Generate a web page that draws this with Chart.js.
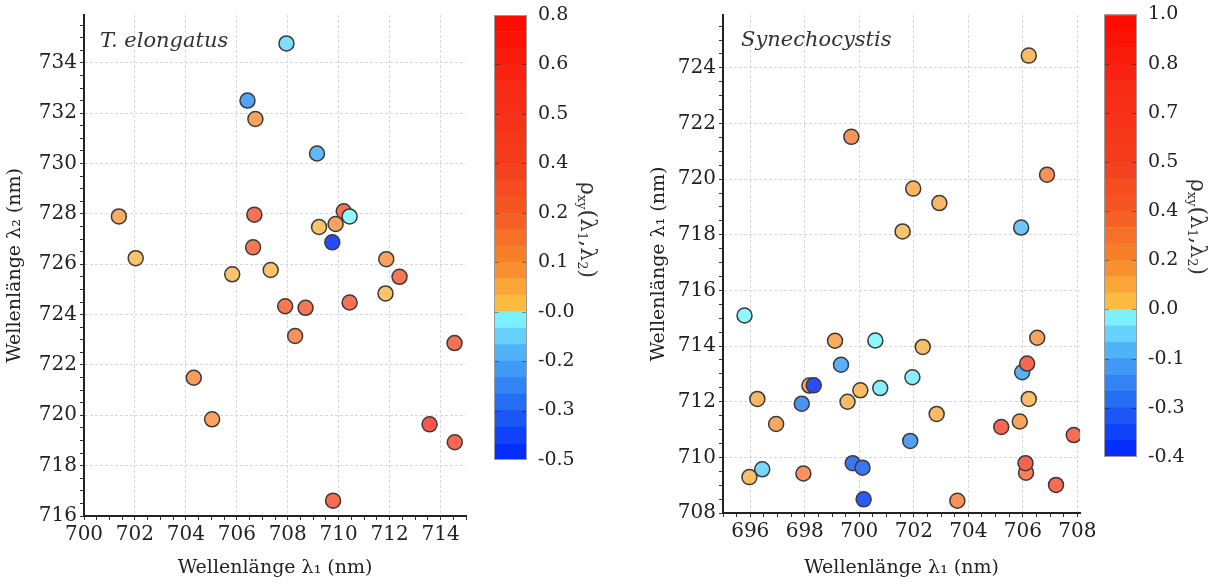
<!DOCTYPE html>
<html>
<head>
<meta charset="utf-8">
<script src="https://cdn.jsdelivr.net/npm/chart.js@4"></script>
<style>
body { margin: 0; background: #fff; }
#wrap { position: relative; width: 1217px; height: 588px; }
canvas { position: absolute; top: 0; }
</style>
</head>
<body>
<div id="wrap">
  <canvas id="teChart" width="480" height="588" style="left:0px"></canvas>
  <canvas id="teBar" width="120" height="588" style="left:480px"></canvas>
  <canvas id="syChart" width="460" height="588" style="left:640px"></canvas>
  <canvas id="syBar" width="127" height="588" style="left:1090px"></canvas>
</div>
<script>
// T. elongatus: lambda1, lambda2, correlation
var teX = [707.95, 706.42, 706.73, 709.15, 701.37, 702.03, 706.69, 706.64, 705.82, 707.33, 709.23, 709.88, 710.2, 710.43,
           709.75, 711.87, 712.39, 711.84, 707.9, 708.7, 708.29, 710.43, 714.55, 704.31, 705.03, 713.57, 714.56, 709.78];
var teY = [734.77, 732.5, 731.77, 730.4, 727.9, 726.24, 727.97, 726.67, 725.6, 725.77, 727.48, 727.6, 728.1, 727.9,
           726.87, 726.2, 725.5, 724.84, 724.33, 724.27, 723.15, 724.48, 722.87, 721.49, 719.84, 719.64, 718.93, 716.61];
var teRho = [-0.08, -0.22, 0.1, -0.18, 0.08, 0.03, 0.35, 0.3, 0.03, 0.03, 0.03, 0.1, 0.35, -0.01,
             -0.45, 0.1, 0.3, 0.03, 0.3, 0.3, 0.15, 0.35, 0.35, 0.12, 0.1, 0.6, 0.45, 0.4];
var teBarTicks = ['0.8', '0.6', '0.5', '0.4', '0.2', '0.1', '-0.0', '-0.2', '-0.3', '-0.5'];

// Synechocystis
var syX = [706.22, 699.71, 701.98, 702.94, 701.59, 706.89, 705.94, 695.79, 699.11, 700.59, 702.33, 706.53, 699.33, 705.98,
           706.16, 701.95, 700.77, 700.04, 698.17, 698.33, 696.26, 697.89, 699.57, 706.22, 702.84, 696.95, 705.89, 705.21,
           707.87, 701.87, 699.76, 700.12, 696.44, 695.97, 697.95, 706.12, 706.1, 707.22, 700.16, 703.6];
var syY = [724.44, 721.52, 719.66, 719.14, 718.12, 720.16, 718.26, 715.1, 714.19, 714.2, 713.97, 714.3, 713.33, 713.06,
           713.37, 712.88, 712.49, 712.41, 712.58, 712.59, 712.1, 711.93, 712.0, 712.1, 711.56, 711.2, 711.29, 711.09,
           710.8, 710.59, 709.79, 709.63, 709.57, 709.29, 709.42, 709.45, 709.79, 709.01, 708.49, 708.44];
var syRho = [0.1, 0.3, 0.12, 0.12, 0.06, 0.3, -0.07, -0.01, 0.16, -0.01, 0.08, 0.2, -0.1, -0.1,
             0.6, -0.02, -0.02, 0.1, 0.2, -0.37, 0.12, -0.2, 0.1, 0.08, 0.1, 0.18, 0.2, 0.6,
             0.5, -0.15, -0.3, -0.3, -0.05, 0.08, 0.3, 0.4, 0.7, 0.5, -0.35, 0.3];
var syBarTicks = ['1.0', '0.8', '0.7', '0.5', '0.4', '0.2', '0.0', '-0.1', '-0.3', '-0.4'];

var SERIF = '"DejaVu Serif", "Liberation Serif", serif';

// colour map, p = 0 (bottom of bar) .. 9 (top), zero sits at p = 3
var negStops = [[0, '#0022ff'], [1, '#1f62f2'], [2, '#45a4f6'], [3, '#86ffff']];
var posStops = [[3, '#fcc444'], [3.5, '#f9a537'], [4, '#f7862c'], [5, '#f55a22'], [6, '#f43d1d'], [7.5, '#f72a15'], [9, '#ff0800']];

function hex(c) {
    return [parseInt(c.slice(1, 3), 16), parseInt(c.slice(3, 5), 16), parseInt(c.slice(5, 7), 16)];
}
function interp(stops, p) {
    for (var i = 0; i < stops.length - 1; i++) {
        var a = stops[i], b = stops[i + 1];
        if (p <= b[0] || i == stops.length - 2) {
            var t = Math.max(0, Math.min(1, (p - a[0]) / (b[0] - a[0])));
            var A = hex(a[1]), B = hex(b[1]);
            return A.map(function(v, j) { return v + (B[j] - v) * t; });
        }
    }
}
function cmap(p) { return p < 3 ? interp(negStops, p) : interp(posStops, p); }
function rgb(c, w) {
    w = w || 0;
    return 'rgb(' + c.map(function(v) { return Math.round(v + (255 - v) * w); }).join(',') + ')';
}
// value -> bar position, using the (uneven) tick labels of the bar
function rhoToPos(v, labels) {
    var vals = labels.map(Number);
    for (var i = 0; i < vals.length - 1; i++) {
        var hi = vals[i], lo = vals[i + 1];
        if (v <= hi && v >= lo) return 8 - i + (v - lo) / (hi - lo);
    }
    return v > vals[0] ? 9 : 0;
}

var inPlotTitle = {
    id: 'inPlotTitle',
    afterDraw: function(chart, args, opts) {
        var a = chart.chartArea, ctx = chart.ctx;
        ctx.save();
        ctx.font = 'italic 21px ' + SERIF;
        ctx.fillStyle = '#333';
        ctx.textBaseline = 'middle';
        ctx.fillText(opts.text, a.left + opts.dx, a.top + opts.dy);
        ctx.restore();
    }
};

function axis(r, title, size, dir, titlePad) {
    return {
        type: 'linear', min: r[0], max: r[1],
        afterBuildTicks: function(s) {
            var t = [];
            for (var v = Math.ceil(r[0] * 2) / 2; v <= r[1] + 1e-9; v += 0.5) {
                t.push({ value: v, major: v % 2 == 0 });
            }
            s.ticks = t;
        },
        afterFit: function(s) { if (dir == 'x') s.height = size; else s.width = size; },
        grid: {
            color: function(c) { return c.tick && c.tick.major ? '#d8d8d8' : 'rgba(0,0,0,0)'; },
            tickColor: '#333', tickLength: 4
        },
        border: { color: '#222', width: 2, dash: [3, 2] },
        ticks: {
            autoSkip: false, maxRotation: 0, padding: 3,
            color: '#222', font: { family: SERIF, size: 20 },
            callback: function(v, i, t) { return t[i].major ? String(v) : ''; }
        },
        title: {
            display: true, text: title, color: '#222',
            font: { family: SERIF, size: 19 }, padding: titlePad
        }
    };
}

function scatterChart(id, xs, ys, rho, barTicks, xr, yr, yTitle, name, pad, yW, xH, tdx, tdy, yPad) {
    var pts = xs.map(function(x, i) { return { x: x, y: ys[i] }; });
    var cols = rho.map(function(v) { return rgb(cmap(rhoToPos(v, barTicks)), v > 0 ? 0.24 : 0.12); });
    return new Chart(document.getElementById(id), {
        type: 'scatter',
        data: { datasets: [{ data: pts, backgroundColor: cols, borderColor: '#3a3a3a', borderWidth: 1.5,
                             pointRadius: 7.5, pointHoverRadius: 7.5 }] },
        options: {
            responsive: false, animation: false,
            layout: { padding: pad },
            plugins: { legend: { display: false }, tooltip: { enabled: false },
                       inPlotTitle: { text: name, dx: tdx, dy: tdy } },
            scales: {
                x: axis(xr, 'Wellenlänge λ₁ (nm)', xH, 'x', { top: 2, bottom: 9 }),
                y: axis(yr, yTitle, yW, 'y', yPad)
            }
        },
        plugins: [inPlotTitle]
    });
}

var cbFrame = {
    id: 'cbFrame',
    afterDraw: function(chart, args, opts) {
        var a = chart.chartArea, ctx = chart.ctx, sc = chart.scales.y;
        ctx.save();
        ctx.strokeStyle = 'rgba(0,0,0,0.35)';
        ctx.lineWidth = 1;
        for (var i = 1; i < 9; i++) {
            var y = Math.round(sc.getPixelForValue(i)) + 0.5;
            ctx.beginPath();
            ctx.moveTo(a.left, y); ctx.lineTo(a.left + 5, y);
            ctx.moveTo(a.right - 5, y); ctx.lineTo(a.right, y);
            ctx.stroke();
        }
        ctx.strokeStyle = '#9a9a9a';
        ctx.strokeRect(a.left + 0.5, a.top + 0.5, a.right - a.left - 1, a.bottom - a.top - 1);
        // rotated label rho_xy(lambda1, lambda2)
        var parts = [['ρ', 22, 0], ['xy', 13, 6], ['(λ', 22, 0], ['1', 13, 6], [',λ', 22, 0], ['2', 13, 6], [')', 22, 0]];
        var total = 0;
        parts.forEach(function(p) { ctx.font = p[1] + 'px ' + SERIF; total += ctx.measureText(p[0]).width; });
        ctx.translate(opts.x, opts.y);
        ctx.rotate(Math.PI / 2);
        ctx.fillStyle = '#333';
        ctx.textBaseline = 'middle';
        var x = -total / 2;
        parts.forEach(function(p) {
            ctx.font = p[1] + 'px ' + SERIF;
            ctx.fillText(p[0], x, p[2]);
            x += ctx.measureText(p[0]).width;
        });
        ctx.restore();
    }
};

function colorBar(id, labels, pad, yW, lx, ly) {
    var datasets = [];
    for (var k = 0; k < 27; k++) {
        datasets.push({ data: [1 / 3], backgroundColor: rgb(cmap((k + 0.5) / 3)), borderWidth: 0,
                        barPercentage: 1, categoryPercentage: 1 });
    }
    return new Chart(document.getElementById(id), {
        type: 'bar',
        data: { labels: [''], datasets: datasets },
        options: {
            responsive: false, animation: false,
            layout: { padding: pad },
            plugins: { legend: { display: false }, tooltip: { enabled: false }, cbFrame: { x: lx, y: ly } },
            scales: {
                x: { display: false, stacked: true },
                y: {
                    stacked: true, position: 'right', min: 0, max: 9,
                    afterBuildTicks: function(s) {
                        s.ticks = labels.map(function(l, i) { return { value: 9 - i }; });
                    },
                    afterFit: function(s) { s.width = yW; },
                    grid: { display: false },
                    border: { display: false },
                    ticks: {
                        autoSkip: false, padding: 3, color: '#222',
                        font: { family: SERIF, size: 19 },
                        callback: function(v) { return labels[9 - v]; }
                    }
                }
            }
        },
        plugins: [cbFrame]
    });
}

scatterChart('teChart', teX, teY, teRho, teBarTicks, [700, 715], [716, 735.9], 'Wellenlänge λ₂ (nm)', 'T. elongatus',
             { top: 15, right: 14, left: 0, bottom: 0 }, 84, 72, 16, 27, { top: 4, bottom: 4 });
scatterChart('syChart', syX, syY, syRho, syBarTicks, [695, 708.1], [708, 725.9], 'Wellenlänge λ₁ (nm)', 'Synechocystis',
             { top: 14, right: 20, left: 0, bottom: 0 }, 83, 75, 18, 26, { top: 8, bottom: 4 });

colorBar('teBar', teBarTicks, { left: 14, top: 15, bottom: 128, right: 0 }, 73, 107, 230);
colorBar('syBar', syBarTicks, { left: 14, top: 12, bottom: 131, right: 0 }, 80, 107, 227);
</script>
</body>
</html>
